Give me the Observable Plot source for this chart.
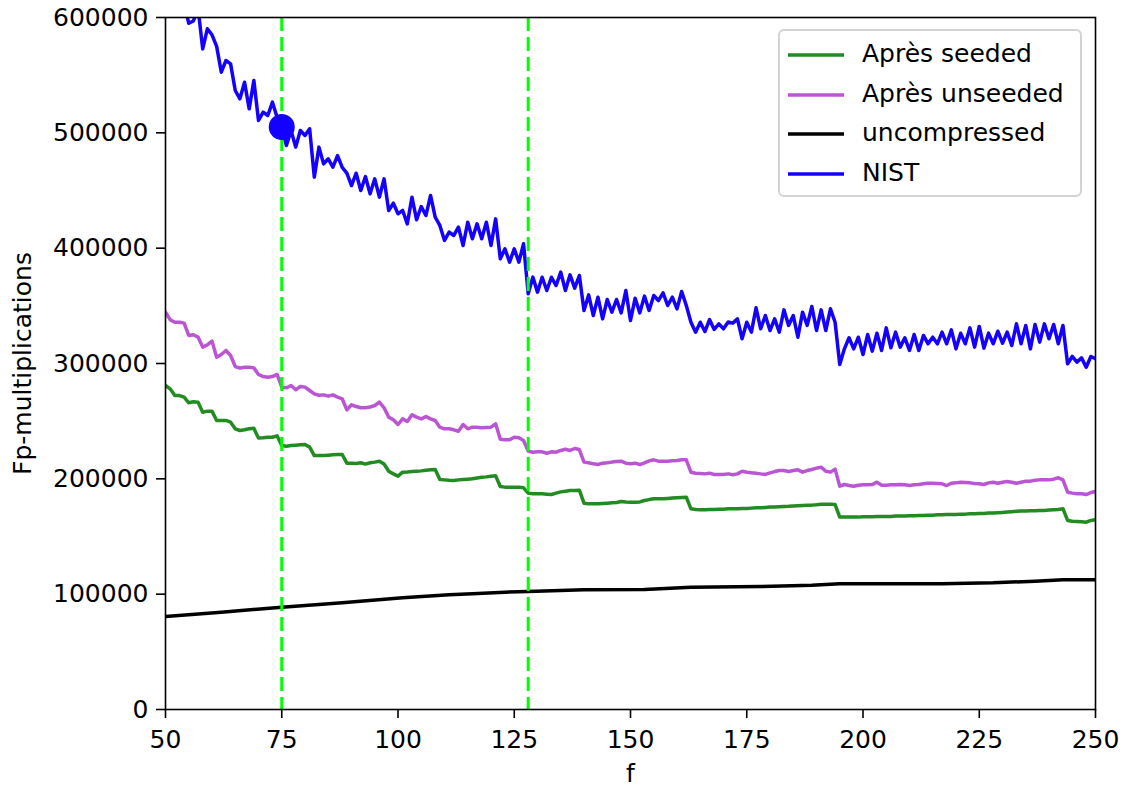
<!DOCTYPE html>
<html>
<head>
<meta charset="utf-8">
<script src="https://cdn.jsdelivr.net/npm/d3@7"></script>
<script src="https://cdn.jsdelivr.net/npm/@observablehq/plot@0.6"></script>
<style>
  body { margin: 0; background: #fff; font-family: "DejaVu Sans", sans-serif; }
  #wrap { position: relative; width: 1124px; height: 786px; overflow: hidden; }
  #legend { position: absolute; left: 778px; top: 29px; width: 304px; height: 168px;
            border: 2px solid #d3d3d3; border-radius: 6px; background: rgba(255,255,255,0.85);
            box-sizing: border-box; }
  .row { position: absolute; left: 0; height: 30px; }
  .row svg { position: absolute; left: 6px; top: 0; }
  .row span { position: absolute; left: 82px; top: -1px; font-size: 25px; line-height: 30px; white-space: nowrap; color: #000; }
</style>
</head>
<body>
<div id="wrap"></div>
<script>
// x values (f) shared by the three zig-zag series
const fValues = d3.range(50, 251);

// Fp-multiplications, in thousands, f = 50..250
const nist = [
  640, 628, 633, 618, 612, 595, 597, 608, 572.8, 590.2,
  585, 575, 552.6, 562.7, 559.8, 536.7, 529.5, 543.9, 520.8, 545.4,
  510.7, 517.9, 515, 526.6, 513.5, 505, 489, 502, 487.6, 502,
  497.7, 503.5, 461.6, 487.6, 473.1, 477.5, 470.2, 480.3, 470, 465,
  454.3, 465, 450, 462.1, 447.1, 460.1, 444.2, 460.1, 432.7, 439,
  429.8, 432.7, 421.1, 444.2, 424.6, 436.1, 428.3, 445.7, 426.9, 419.7,
  406.7, 413.9, 411, 418.2, 402.3, 422.5, 408.1, 421.1, 408.1, 422.5,
  402.3, 425.4, 390.8, 399.4, 387.9, 399.4, 387.9, 403.8, 360.4, 374.9,
  361.9, 374.8, 363.3, 374.8, 367.6, 379.2, 363.3, 376.9, 365.3, 376.3,
  346, 359.5, 341.6, 357.5, 338.7, 355.5, 344.5, 355.5, 343.9, 363.3,
  337.3, 356.6, 343.9, 358.4, 346, 359, 354.6, 361.3, 350.3, 357.5,
  347.4, 362.4, 350.3, 335.8, 327.1, 335.8, 327.7, 338.1, 329.5, 334.4,
  330.1, 336, 335, 338.7, 321.4, 335.8, 327.2, 348.3, 330.1, 341.6,
  328.6, 338.7, 327.2, 346.5, 333, 341.6, 322.8, 344.5, 333, 349.4,
  328.6, 346.5, 328.6, 347.4, 335.8, 299.1, 312.7, 322.3, 312.7, 322.8,
  307.8, 325.1, 310.7, 326.3, 311.3, 330.9, 313.6, 327.2, 314.2, 322.3,
  311.3, 325.1, 311.3, 324.3, 317.1, 322.8, 317.1, 327.2, 317.1, 329.2,
  312.7, 326.3, 317.1, 330.9, 314.2, 332.1, 313.3, 326.3, 317.1, 328,
  317.6, 327.2, 315.6, 334.4, 317.1, 333, 312.7, 333.8, 318.5, 334.4,
  321.4, 333.8, 317.1, 333, 299.7, 306.1, 301.2, 304.9, 296.8, 306.1,
  304.1
];

const apresUnseeded = [
  344.5, 338, 335.8, 335.8, 335, 324.3, 324.9, 322.9, 314.2, 316.2,
  319.4, 305.5, 307.8, 311.3, 306.9, 297.4, 296, 296.8, 296.8, 296.2,
  290.5, 288.7, 288.1, 288.7, 290.5, 279.5, 278.9, 280.9, 277.2, 280.1,
  279.5, 276.6, 273.7, 272.5, 272.8, 271.7, 272.8, 270.8, 269.4, 259.8,
  264.2, 262.7, 261.6, 261.6, 262.2, 263.6, 266.5, 261.6, 253.5, 251.2,
  247.1, 252, 249.7, 255.5, 253.5, 252, 254, 252, 250.6, 244.8,
  243.4, 243.4, 242.5, 241.3, 247.1, 243.4, 244.8, 244.8, 244.2, 244.5,
  244.8, 247.7, 234.4, 233.8, 233.8, 236.1, 235.6, 233.2, 224, 223.1,
  223.4, 223.4, 222.2, 223.4, 223.1, 224.6, 225.7, 224.6, 226.3, 225.4,
  214.5, 213.9, 213, 212.4, 213.6, 213.9, 214.5, 215, 215.3, 213.6,
  213, 213.6, 212.4, 213.9, 215.6, 216.5, 215.3, 215.3, 215.3, 215.6,
  215.9, 216.5, 216.5, 205.7, 204.9, 204.6, 204.3, 204.9, 203.8, 203.8,
  203.8, 204.3, 203.5, 204.3, 206.6, 205.7, 205.2, 204.9, 204.3, 203.8,
  205.2, 206.3, 207.2, 207.2, 206.4, 207.2, 207.8, 205.8, 207.2, 208.1,
  209.3, 210.1, 206.6, 205.8, 208.4, 193.6, 195.1, 194.2, 193.6, 194.5,
  194.8, 194.8, 195.1, 197.1, 194.5, 194.5, 194.8, 194.8, 195.1, 194.8,
  194.2, 194.8, 195.1, 195.7, 196.2, 196.2, 196, 195.7, 194.2, 196.2,
  196.5, 197.1, 196.8, 196.5, 196, 195.7, 195.1, 196.5, 197.1, 196.2,
  197.1, 197.7, 197.1, 196.2, 197.1, 198, 198, 198.8, 199.1, 199.1,
  199.1, 199.7, 200.9, 199.1, 188.4, 187.6, 187, 187, 186.4, 188.1,
  189
];

const apresSeeded = [
  280.9, 278, 272.2, 272.2, 270.8, 265.9, 266.8, 266.5, 257.8, 258.7,
  258.7, 250.6, 250.6, 250.6, 249.1, 243.4, 241.9, 242.5, 243.4, 243.9,
  235.3, 235.6, 236.1, 236.1, 237.3, 228.9, 228.3, 228.9, 229.2, 229.5,
  229.8, 227.5, 220.2, 220.2, 220.2, 220.5, 220.8, 221.1, 221.1, 213.6,
  213.6, 213.3, 213.9, 212.8, 213.9, 214.5, 215.3, 212.8, 206.6, 204.3,
  202.3, 205.8, 206, 206.3, 206.6, 206.9, 207.5, 207.8, 208.1, 199.4,
  199.1, 198.8, 198.6, 199.1, 199.4, 199.7, 200, 200.8, 201.4, 201.7,
  202.3, 202.6, 193.4, 192.8, 192.8, 192.8, 192.8, 192.2, 187.6, 187,
  187, 187, 186.7, 186.4, 187.6, 188.7, 189.3, 189.9, 189.9, 190.2,
  178.9, 178.3, 178.3, 178.3, 178.6, 178.9, 179.2, 179.5, 180.3, 180,
  179.8, 179.8, 180, 181.2, 182, 182.7, 182.7, 182.7, 183, 183.3,
  183.6, 183.9, 184.1, 174, 173.4, 173.1, 173.1, 173.4, 173.4, 173.7,
  173.7, 174, 174, 174, 174.3, 174.3, 174.6, 174.9, 174.9, 175.2,
  175.5, 175.5, 175.8, 176.1, 176.2, 176.4, 176.6, 176.8, 177, 177.2,
  177.5, 178, 178, 178, 177.7, 166.8, 166.8, 166.8, 166.8, 166.8,
  167.1, 167.1, 167.1, 167.4, 167.4, 167.4, 167.4, 167.7, 167.7, 167.7,
  168, 168, 168.3, 168.3, 168.5, 168.5, 168.8, 168.8, 169.1, 169.1,
  169.1, 169.4, 169.4, 169.7, 169.7, 170, 170, 170.3, 170.3, 170.6,
  170.9, 171.2, 171.5, 171.8, 172.1, 172.1, 172.3, 172.3, 172.6, 172.6,
  172.9, 173.2, 173.5, 174.1, 163.9, 163.3, 163, 162.7, 162.4, 163.9,
  164.5
];

// uncompressed: smooth line, read at these f values
const uncompressedF = [50, 62, 75, 88, 101, 111, 116, 123, 128, 140, 153, 163, 178, 189, 195, 217, 228, 237, 243, 250];
const uncompressed  = [80.6, 84.4, 88.7, 92.5, 96.8, 99.4, 100.3, 101.7, 102.3, 103.8, 104, 106.1, 106.6, 107.8, 109, 109, 109.8, 111.3, 112.4, 112.4];

// vertical dashed markers and highlighted point
const dashedF = [75, 128];
const highlightF = [75];
const highlightV = [505];

const seriesNames  = ["Après seeded", "Après unseeded", "uncompressed", "NIST"];
const seriesColors = ["#228b22", "#ba55d3", "#000000", "#1400ff"];

const xTicks = [50, 75, 100, 125, 150, 175, 200, 225, 250];
const yTicks = [0, 100000, 200000, 300000, 400000, 500000, 600000];

// build tables
const toRows = (xs, vs, name) => vs.map((v, i) => ({f: xs[i], v: v * 1000, s: name}));
const rowsSeeded   = toRows(fValues, apresSeeded, seriesNames[0]);
const rowsUnseeded = toRows(fValues, apresUnseeded, seriesNames[1]);
const rowsUncomp   = toRows(uncompressedF, uncompressed, seriesNames[2]);
const rowsNist     = toRows(fValues, nist, seriesNames[3]);
const rowsHighlight = highlightF.map((f, i) => ({f, v: highlightV[i] * 1000}));

const lw = 3.5;
const chart = Plot.plot({
  width: 1124,
  height: 786,
  marginLeft: 165,
  marginRight: 29,
  marginTop: 17,
  marginBottom: 77,
  style: {fontSize: "25px", fontFamily: "DejaVu Sans, sans-serif", color: "#000", background: "#fff"},
  x: {domain: [50, 250]},
  y: {domain: [0, 600000]},
  marks: [
    Plot.line(rowsSeeded,   {x: "f", y: "v", stroke: seriesColors[0], strokeWidth: lw, clip: true}),
    Plot.line(rowsUnseeded, {x: "f", y: "v", stroke: seriesColors[1], strokeWidth: lw, clip: true}),
    Plot.line(rowsUncomp,   {x: "f", y: "v", stroke: seriesColors[2], strokeWidth: lw, clip: true}),
    Plot.line(rowsNist,     {x: "f", y: "v", stroke: seriesColors[3], strokeWidth: lw, clip: true}),
    Plot.ruleX(dashedF, {stroke: "#00ff00", strokeWidth: 3, strokeDasharray: "14,6"}),
    Plot.dot(rowsHighlight, {x: "f", y: "v", r: 13, fill: seriesColors[3], stroke: "none"}),
    Plot.frame({stroke: "#000", strokeWidth: 1.6}),
    Plot.axisX({ticks: xTicks, tickSize: 9, tickPadding: 12, strokeWidth: 1.6,
                label: "f", labelAnchor: "center", labelOffset: 72, labelArrow: "none"}),
    Plot.axisY({ticks: yTicks, tickFormat: d3.format("d"), tickSize: 9, tickPadding: 8, strokeWidth: 1.6,
                label: "Fp-multiplications", labelAnchor: "center", labelOffset: 152, labelArrow: "none"})
  ]
});

const wrap = document.getElementById("wrap");
wrap.appendChild(chart);

// legend
const legend = d3.select(wrap).append("div").attr("id", "legend");
const rowTops = [9, 49, 88, 128];
seriesNames.forEach((name, i) => {
  const row = legend.append("div").attr("class", "row").style("top", rowTops[i] + "px").style("width", "300px");
  const svg = row.append("svg").attr("width", 60).attr("height", 30);
  svg.append("line").attr("x1", 2).attr("x2", 58).attr("y1", 15).attr("y2", 15)
     .attr("stroke", seriesColors[i]).attr("stroke-width", 3.5);
  row.append("span").text(name);
});
</script>
</body>
</html>
